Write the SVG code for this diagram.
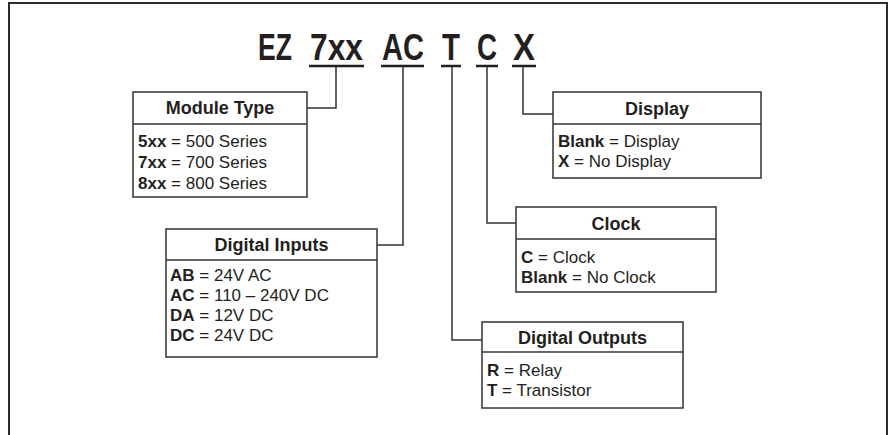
<svg xmlns="http://www.w3.org/2000/svg" width="890" height="435" viewBox="0 0 890 435">
<style>
.frame{fill:none;stroke:#2b2b2b;stroke-width:2}
.box{fill:#fff;stroke:#333;stroke-width:1.5}
.sep{stroke:#333;stroke-width:1.5}
.con{fill:none;stroke:#333;stroke-width:1.5}
.ul{stroke:#231f20;stroke-width:2.5}
.title{font-family:"Liberation Sans",Arial,sans-serif;font-weight:bold;font-size:36px;fill:#231f20}
.hd{font-family:"Liberation Sans",Arial,sans-serif;font-weight:bold;font-size:18px;fill:#231f20;text-anchor:middle}
.tx{font-family:"Liberation Sans",Arial,sans-serif;font-size:17px;fill:#231f20}
.b{font-weight:bold}
</style>
<rect width="890" height="435" fill="#fff"/>
<path class="frame" d="M9,435 V3 H887 V435"/>
<g id="title">
<text class="title" x="258" y="60" textLength="34" lengthAdjust="spacingAndGlyphs">EZ</text>
<text class="title" x="310" y="60" textLength="53" lengthAdjust="spacingAndGlyphs">7xx</text>
<text class="title" x="382" y="60" textLength="42" lengthAdjust="spacingAndGlyphs">AC</text>
<text class="title" x="442" y="60" textLength="18" lengthAdjust="spacingAndGlyphs">T</text>
<text class="title" x="477" y="60" textLength="20" lengthAdjust="spacingAndGlyphs">C</text>
<text class="title" x="513" y="60" textLength="22" lengthAdjust="spacingAndGlyphs">X</text>
<line class="ul" x1="309" y1="66" x2="364" y2="66"/>
<line class="ul" x1="381" y1="66" x2="424" y2="66"/>
<line class="ul" x1="441" y1="66" x2="461" y2="66"/>
<line class="ul" x1="476" y1="66" x2="498" y2="66"/>
<line class="ul" x1="512" y1="66" x2="536" y2="66"/>
</g>
<g id="connectors">
<path class="con" d="M336,67 V108 H307"/>
<path class="con" d="M403,67 V245 H377"/>
<path class="con" d="M452,67 V340 H482"/>
<path class="con" d="M487,67 V223 H516"/>
<path class="con" d="M523,67 V114 H553"/>
</g>
<g id="module-type">
<rect class="box" x="133" y="92" width="174" height="105"/>
<line class="sep" x1="133" y1="124" x2="307" y2="124"/>
<text class="hd" x="220" y="114">Module Type</text>
<text class="tx" x="138" y="147"><tspan class="b">5xx</tspan> = 500 Series</text>
<text class="tx" x="138" y="168"><tspan class="b">7xx</tspan> = 700 Series</text>
<text class="tx" x="138" y="189"><tspan class="b">8xx</tspan> = 800 Series</text>
</g>
<g id="digital-inputs">
<rect class="box" x="166" y="229" width="211" height="128"/>
<line class="sep" x1="166" y1="260" x2="377" y2="260"/>
<text class="hd" x="271.5" y="251">Digital Inputs</text>
<text class="tx" x="170" y="281"><tspan class="b">AB</tspan> = 24V AC</text>
<text class="tx" x="170" y="301"><tspan class="b">AC</tspan> = 110 – 240V DC</text>
<text class="tx" x="170" y="321"><tspan class="b">DA</tspan> = 12V DC</text>
<text class="tx" x="170" y="341"><tspan class="b">DC</tspan> = 24V DC</text>
</g>
<g id="display">
<rect class="box" x="553" y="92" width="208" height="86"/>
<line class="sep" x1="553" y1="124" x2="761" y2="124"/>
<text class="hd" x="657" y="115">Display</text>
<text class="tx" x="558" y="147"><tspan class="b">Blank</tspan> = Display</text>
<text class="tx" x="558" y="167"><tspan class="b">X</tspan> = No Display</text>
</g>
<g id="clock">
<rect class="box" x="516" y="207" width="200" height="85"/>
<line class="sep" x1="516" y1="239" x2="716" y2="239"/>
<text class="hd" x="616" y="230">Clock</text>
<text class="tx" x="521" y="263"><tspan class="b">C</tspan> = Clock</text>
<text class="tx" x="521" y="283"><tspan class="b">Blank</tspan> = No Clock</text>
</g>
<g id="digital-outputs">
<rect class="box" x="482" y="322" width="201" height="86"/>
<line class="sep" x1="482" y1="352" x2="683" y2="352"/>
<text class="hd" x="582.5" y="344">Digital Outputs</text>
<text class="tx" x="487" y="376"><tspan class="b">R</tspan> = Relay</text>
<text class="tx" x="487" y="396"><tspan class="b">T</tspan> = Transistor</text>
</g>
</svg>
